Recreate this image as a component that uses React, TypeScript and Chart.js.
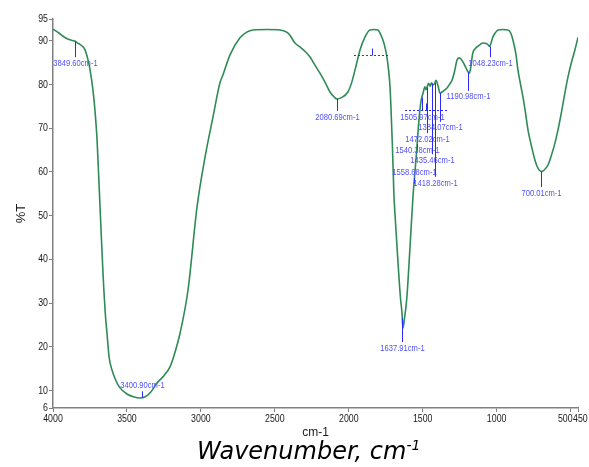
import React, { useEffect, useRef } from "react";
import { Chart, registerables } from "chart.js";

Chart.register(...registerables);

// ---- Data ----
const wavenumbers = [
  4000, 3960, 3930, 3900, 3870, 3850, 3838, 3810, 3784, 3763, 3750, 3730, 3716, 3702, 3682, 3662, 3645, 3635, 3620, 3601,
  3575, 3547, 3500, 3450, 3412, 3380, 3340, 3297, 3250, 3209, 3180, 3141, 3087, 3026, 2972, 2918, 2871, 2851, 2803,
  2736, 2690, 2648, 2550, 2465, 2420, 2398, 2364, 2330, 2290, 2262, 2242, 2195, 2160, 2127, 2100, 2080, 2050, 2006, 1980,
  1958, 1924, 1890, 1857, 1830, 1803, 1785, 1769, 1755, 1742, 1730, 1721, 1715, 1705, 1695, 1688, 1667, 1650, 1640, 1634,
  1625, 1607, 1586, 1566, 1550, 1539, 1530, 1519, 1510, 1498, 1485, 1478, 1471, 1460, 1450, 1440, 1431, 1420, 1410, 1404,
  1395, 1383, 1370, 1350, 1336, 1320, 1302, 1285, 1268, 1255, 1240, 1225, 1210, 1195, 1185, 1175, 1165, 1160, 1145, 1133,
  1110, 1093, 1070, 1055, 1048, 1040, 1025, 1010, 991, 960, 924, 905, 890, 870, 856, 840, 822, 805, 788, 765,
  741, 720, 700, 680, 653, 630, 606, 580, 559, 540, 518, 495, 471, 450,
];
const transmittance = [
  92.7, 91.8, 91.0, 90.4, 90.1, 89.9, 89.6, 89.0, 88.0, 85.6, 83.5, 78.8, 74.0, 67.3, 52.0, 36.9, 27.0, 23.1, 17.5, 14.7,
  12.3, 10.6, 9.2, 8.5, 8.3, 8.5, 9.6, 11.7, 13.4, 15.4, 18.2, 23.1, 33.0, 52.0, 63.4, 72.6, 80.4, 82.2, 86.8,
  90.7, 92.0, 92.5, 92.6, 92.5, 92.0, 91.3, 89.5, 88.6, 87.4, 86.3, 85.2, 82.6, 80.5, 78.3, 77.2, 76.7, 77.0, 78.3, 80.5,
  83.3, 87.9, 90.9, 92.5, 92.6, 92.5, 91.5, 90.2, 88.5, 86.3, 83.0, 79.4, 75.0, 66.0, 55.0, 50.6, 39.2, 31.0, 27.7, 24.3,
  26.0, 31.4, 42.8, 54.3, 61.0, 65.7, 70.0, 74.2, 76.5, 78.0, 79.5, 78.8, 79.4, 80.3, 79.6, 80.4, 79.9, 80.2, 81.0, 80.6,
  79.5, 78.0, 78.3, 78.8, 79.2, 80.0, 81.0, 83.0, 85.6, 86.1, 85.8, 85.0, 84.0, 83.0, 82.6, 84.0, 86.5, 87.4, 88.2, 88.6,
  89.2, 89.5, 89.4, 89.0, 88.7, 89.3, 90.9, 91.8, 92.5, 92.6, 92.5, 91.8, 90.2, 87.0, 83.3, 80.3, 77.1, 73.5, 69.6, 66.0,
  62.7, 60.8, 60.1, 60.4, 61.6, 63.8, 66.6, 70.5, 74.2, 77.8, 81.7, 85.0, 87.9, 90.8,
];

const xTickValues = [4000, 3500, 3000, 2500, 2000, 1500, 1000, 500, 450];
const yTickValues = [6, 10, 20, 30, 40, 50, 60, 70, 80, 90, 95];

const peakWavenumbers = [3849.6, 3400.9, 2080.69, 1637.91, 1505.97, 1384.07, 1472.02, 1540.38, 1435.46, 1558.68, 1418.28, 1190.98, 1048.23, 700.01];
const peakLabels = peakWavenumbers.map((w) => w.toFixed(2) + "cm-1");
const peakLabelT = [84.9, 11.2, 72.6, 19.7, 72.6, 70.1, 67.5, 65.0, 62.7, 60.0, 57.5, 77.2, 84.9, 55.2];

const baselineStart = [1965, 1620];
const baselineEnd = [1721, 1330];
const baselineT = [86.8, 74.2];

const BASE_FONT = '"Liberation Sans", Arial, sans-serif';
const NARROW = 0.8;

function curveAt(w: number): number {
  for (let i = 0; i < wavenumbers.length - 1; i++) {
    const a = wavenumbers[i];
    const b = wavenumbers[i + 1];
    if (w <= a && w >= b) {
      const t = (a - w) / (a - b);
      return transmittance[i] + t * (transmittance[i + 1] - transmittance[i]);
    }
  }
  return transmittance[transmittance.length - 1];
}

function narrowText(ctx: CanvasRenderingContext2D, text: string, x: number, y: number, align: CanvasTextAlign) {
  ctx.save();
  ctx.translate(x, y);
  ctx.scale(NARROW, 1);
  ctx.textAlign = align;
  ctx.fillText(text, 0, 0);
  ctx.restore();
}

const annotationPlugin = {
  id: "peakAnnotations",
  afterDraw(chart: any) {
    const { ctx, scales } = chart;
    const xs = scales.x;
    const ys = scales.y;
    ctx.save();

    // tick labels (narrow face)
    ctx.fillStyle = "#1a1a1a";
    ctx.font = "11px " + BASE_FONT;
    ctx.textBaseline = "middle";
    for (const v of yTickValues) {
      narrowText(ctx, String(v), 48, ys.getPixelForValue(v), "right");
    }
    for (const v of xTickValues) {
      const px = xs.getPixelForValue(v);
      if (v === 500) narrowText(ctx, String(v), px + 2, 419, "right");
      else if (v === 450) narrowText(ctx, String(v), px - 5, 419, "left");
      else narrowText(ctx, String(v), px, 419, "center");
    }

    // baselines
    ctx.strokeStyle = "#2a2aff";
    ctx.lineWidth = 1;
    for (let i = 0; i < baselineStart.length; i++) {
      const x1 = xs.getPixelForValue(baselineStart[i]);
      const x2 = xs.getPixelForValue(baselineEnd[i]);
      const y = Math.round(ys.getPixelForValue(baselineT[i])) + 0.5;
      ctx.setLineDash([2, 2]);
      ctx.beginPath();
      ctx.moveTo(x1, y);
      ctx.lineTo(x2, y);
      ctx.stroke();
      ctx.setLineDash([]);
      const xm = Math.round((x1 + x2) / 2) + 0.5;
      ctx.beginPath();
      ctx.moveTo(xm, y);
      ctx.lineTo(xm, y - 7);
      ctx.stroke();
    }

    // peak lines and labels
    ctx.font = "9.5px " + BASE_FONT;
    ctx.textBaseline = "middle";
    for (let i = 0; i < peakWavenumbers.length; i++) {
      const w = peakWavenumbers[i];
      const x = Math.round(xs.getPixelForValue(w)) + 0.5;
      const yc = ys.getPixelForValue(curveAt(w));
      const yl = ys.getPixelForValue(peakLabelT[i]);
      ctx.strokeStyle = "#2a2aff";
      ctx.lineWidth = 1;
      ctx.beginPath();
      if (yl > yc) {
        ctx.moveTo(x, yc);
        ctx.lineTo(x, yl - 6);
      } else {
        ctx.moveTo(x, yl + 6);
        ctx.lineTo(x, yc);
      }
      ctx.stroke();
      ctx.fillStyle = "rgb(80,80,255)";
      narrowText(ctx, peakLabels[i], x, yl, "center");
    }
    ctx.restore();
  },
};

export default function App() {
  const canvasRef = useRef<HTMLCanvasElement | null>(null);

  useEffect(() => {
    const canvas = canvasRef.current;
    if (!canvas) return;
    const points = wavenumbers.map((w, i) => ({ x: w, y: transmittance[i] }));
    const chart = new Chart(canvas, {
      type: "line",
      data: {
        datasets: [
          {
            data: points,
            borderColor: "rgb(46,139,87)",
            borderWidth: 1.6,
            pointRadius: 0,
            fill: false,
            cubicInterpolationMode: "monotone",
          },
        ],
      },
      options: {
        responsive: false,
        animation: false,
        devicePixelRatio: 1,
        layout: { padding: { top: 19, right: 11, left: 0, bottom: 23 } },
        plugins: { legend: { display: false }, tooltip: { enabled: false } },
        scales: {
          x: {
            type: "linear",
            reverse: true,
            min: 450,
            max: 4000,
            afterBuildTicks: (scale: any) => {
              scale.ticks = xTickValues.map((v) => ({ value: v }));
            },
            afterFit: (scale: any) => {
              scale.height = 36;
            },
            ticks: { display: false },
            grid: { display: true, drawOnChartArea: false, drawTicks: true, tickLength: 4, color: "#808080" },
            border: { display: true, color: "#808080", width: 1.5 },
            title: {
              display: true,
              text: "cm-1",
              color: "#1a1a1a",
              font: { family: BASE_FONT, size: 12 },
              padding: { top: 0, bottom: 4 },
            },
          },
          y: {
            type: "linear",
            min: 6,
            max: 95,
            afterBuildTicks: (scale: any) => {
              scale.ticks = yTickValues.map((v) => ({ value: v }));
            },
            afterFit: (scale: any) => {
              scale.width = 53;
            },
            ticks: { display: false },
            grid: { display: true, drawOnChartArea: false, drawTicks: true, tickLength: 4, color: "#808080" },
            border: { display: true, color: "#808080", width: 1.5 },
            title: {
              display: true,
              text: "%T",
              color: "#1a1a1a",
              font: { family: BASE_FONT, size: 13 },
              padding: { top: 14, bottom: 0 },
            },
          },
        },
      },
      plugins: [annotationPlugin],
    } as any);
    return () => chart.destroy();
  }, []);

  return (
    <div style={{ position: "fixed", left: 0, top: 0, width: 589, height: 467, background: "#fff" }}>
      <canvas ref={canvasRef} width={589} height={467} style={{ display: "block" }} />
      <div
        style={{
          position: "absolute",
          left: 197,
          top: 437,
          fontFamily: '"DejaVu Sans", sans-serif',
          fontStyle: "italic",
          fontSize: 24,
          lineHeight: "28px",
          whiteSpace: "nowrap",
          color: "#000",
        }}
      >
        Wavenumber, cm<sup style={{ fontSize: 14, verticalAlign: "super", lineHeight: 0 }}>-1</sup>
      </div>
    </div>
  );
}
